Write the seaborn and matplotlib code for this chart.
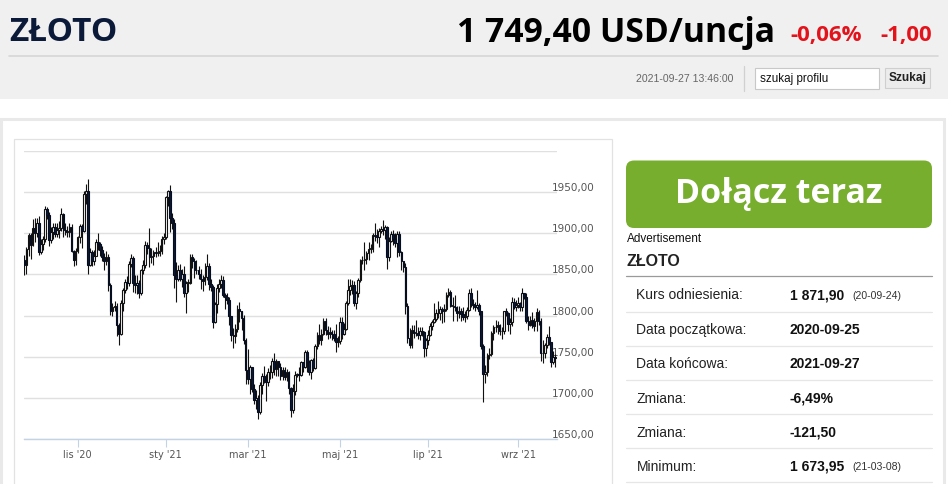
import numpy as np
import pandas as pd
import matplotlib
matplotlib.use("Agg")
import matplotlib.pyplot as plt
from matplotlib.patches import Rectangle, FancyBboxPatch
import seaborn as sns

sns.set_theme(style="white")
plt.rcParams['font.family'] = ['DejaVu Sans']

# ---------------- data ----------------
first_open = 1868
closes = [
    1862, 1881, 1898, 1886,
    1906, 1900, 1913, 1877, 1887, 1893, 1930, 1922, 1892, 1901, 1908, 1899, 1904, 1906, 1924, 1904, 1902, 1902, 1908, 1878, 1868, 1878,
    1895, 1909, 1903, 1948, 1951, 1862, 1877, 1866, 1873, 1889, 1887, 1880, 1871, 1866, 1871, 1837, 1805, 1811, 1812, 1788, 1777,
    1815, 1831, 1841, 1839, 1863, 1870, 1839, 1837, 1840, 1828, 1855, 1861, 1886, 1882, 1871, 1872, 1877, 1876, 1876, 1878, 1893, 1895,
    1944, 1951, 1918, 1913, 1849, 1844, 1855, 1845, 1851, 1828, 1840, 1840, 1871, 1866, 1855, 1855, 1850, 1844, 1842, 1847,
    1860, 1838, 1835, 1792, 1814, 1834, 1838, 1843, 1825, 1823, 1819, 1799, 1776, 1775, 1784, 1808, 1806, 1797, 1770, 1734,
    1723, 1737, 1711, 1698, 1700, 1683, 1716, 1726, 1722, 1719, 1731, 1731, 1745, 1735, 1745, 1738, 1726, 1734, 1725, 1732, 1712, 1685, 1708,
    1728, 1729, 1728, 1743, 1737, 1756, 1744, 1732, 1746, 1736, 1763, 1776, 1770, 1778, 1793, 1783, 1777, 1780, 1778, 1773, 1768, 1769,
    1792, 1778, 1784, 1815, 1831, 1836, 1837, 1815, 1827, 1843, 1867, 1868, 1869, 1876, 1881, 1881, 1898, 1897, 1896, 1903, 1905,
    1904, 1908, 1871, 1891, 1899, 1893, 1888, 1899, 1877, 1866, 1859, 1812, 1773, 1764, 1783, 1779, 1779, 1776, 1781, 1780, 1761, 1770,
    1776, 1787, 1792, 1796, 1803, 1803, 1808, 1805, 1808, 1825, 1829, 1812, 1812, 1810, 1803, 1806, 1802, 1798, 1799, 1807, 1828, 1814,
    1813, 1810, 1813, 1805, 1763, 1729, 1731, 1752, 1753, 1779, 1786, 1786, 1788, 1781, 1781, 1805, 1803, 1790, 1792, 1817, 1810, 1813,
    1815, 1810, 1827, 1823, 1794, 1788, 1795, 1787, 1794, 1804, 1794, 1754, 1754, 1764, 1774, 1768, 1743, 1750, 1749,
]
highs = [
    1874, 1883, 1900, 1900,
    1917, 1918, 1919, 1921, 1893, 1897, 1933, 1932, 1926, 1908, 1912, 1913, 1912, 1915, 1931, 1925, 1912, 1909, 1913, 1911, 1880, 1882,
    1897, 1911, 1911, 1951, 1960, 1966, 1882, 1880, 1880, 1893, 1900, 1890, 1885, 1876, 1878, 1875, 1840, 1815, 1818, 1815, 1791,
    1819, 1833, 1845, 1848, 1866, 1875, 1872, 1849, 1849, 1843, 1857, 1867, 1891, 1889, 1906, 1882, 1880, 1883, 1889, 1886, 1897, 1900,
    1945, 1953, 1959, 1925, 1917, 1865, 1862, 1863, 1857, 1860, 1842, 1845, 1875, 1875, 1870, 1867, 1860, 1856, 1849, 1864,
    1875, 1864, 1845, 1837, 1816, 1838, 1845, 1849, 1848, 1828, 1827, 1823, 1800, 1785, 1790, 1813, 1816, 1806, 1801, 1773,
    1759, 1740, 1738, 1717, 1710, 1703, 1719, 1730, 1739, 1729, 1736, 1740, 1748, 1755, 1747, 1745, 1742, 1737, 1737, 1735, 1733, 1713, 1717,
    1733, 1730, 1738, 1745, 1744, 1758, 1758, 1746, 1747, 1748, 1765, 1780, 1790, 1784, 1797, 1797, 1787, 1786, 1782, 1782, 1790, 1775,
    1798, 1798, 1791, 1818, 1845, 1845, 1843, 1842, 1830, 1846, 1869, 1873, 1890, 1878, 1890, 1887, 1900, 1913, 1905, 1906, 1909,
    1916, 1910, 1909, 1895, 1903, 1904, 1900, 1903, 1903, 1878, 1866, 1864, 1815, 1785, 1788, 1789, 1795, 1786, 1786, 1786, 1781, 1773,
    1782, 1791, 1795, 1815, 1808, 1818, 1812, 1810, 1814, 1829, 1834, 1831, 1822, 1825, 1812, 1812, 1809, 1810, 1806, 1811, 1832, 1833,
    1820, 1817, 1831, 1815, 1806, 1765, 1740, 1755, 1760, 1781, 1788, 1795, 1794, 1790, 1786, 1806, 1809, 1804, 1797, 1823, 1821, 1819,
    1823, 1816, 1834, 1828, 1827, 1800, 1800, 1804, 1797, 1809, 1807, 1797, 1770, 1767, 1777, 1787, 1768, 1757, 1753,
]
lows = [
    1849, 1850, 1873, 1869,
    1884, 1890, 1895, 1874, 1875, 1880, 1890, 1917, 1884, 1888, 1893, 1896, 1896, 1894, 1903, 1895, 1898, 1895, 1896, 1877, 1860, 1862,
    1876, 1888, 1882, 1901, 1936, 1850, 1860, 1860, 1862, 1872, 1880, 1873, 1866, 1855, 1862, 1830, 1801, 1800, 1805, 1775, 1764,
    1776, 1806, 1828, 1832, 1836, 1859, 1829, 1827, 1826, 1821, 1825, 1850, 1858, 1875, 1859, 1864, 1861, 1871, 1872, 1872, 1875, 1887,
    1893, 1933, 1902, 1905, 1834, 1817, 1842, 1842, 1835, 1822, 1803, 1829, 1838, 1858, 1846, 1851, 1844, 1832, 1830, 1837,
    1843, 1831, 1830, 1785, 1791, 1803, 1829, 1834, 1822, 1808, 1814, 1788, 1769, 1760, 1767, 1780, 1792, 1782, 1766, 1717,
    1717, 1705, 1707, 1692, 1687, 1674, 1680, 1705, 1718, 1696, 1715, 1723, 1724, 1728, 1727, 1727, 1722, 1722, 1722, 1720, 1705, 1677, 1681,
    1704, 1725, 1720, 1727, 1732, 1736, 1731, 1728, 1723, 1733, 1735, 1759, 1765, 1764, 1776, 1776, 1771, 1773, 1770, 1769, 1756, 1762,
    1765, 1771, 1776, 1783, 1813, 1825, 1826, 1812, 1808, 1823, 1841, 1863, 1855, 1863, 1868, 1876, 1877, 1891, 1888, 1883, 1900,
    1898, 1893, 1856, 1866, 1889, 1886, 1883, 1871, 1873, 1855, 1853, 1802, 1767, 1761, 1760, 1773, 1775, 1772, 1770, 1775, 1750, 1751,
    1764, 1775, 1783, 1791, 1793, 1797, 1795, 1791, 1792, 1806, 1822, 1810, 1794, 1806, 1794, 1797, 1794, 1795, 1792, 1796, 1805, 1810,
    1808, 1806, 1808, 1801, 1759, 1695, 1718, 1727, 1747, 1751, 1770, 1780, 1777, 1776, 1772, 1778, 1799, 1781, 1777, 1787, 1808, 1805,
    1809, 1805, 1805, 1820, 1791, 1782, 1787, 1785, 1781, 1781, 1788, 1745, 1742, 1749, 1760, 1764, 1737, 1741, 1738,
]
dates = pd.bdate_range("2020-09-25", "2021-09-27")
dates = dates[~dates.isin(pd.to_datetime(["2020-12-25", "2021-01-01"]))]

y_ticks = [1650, 1700, 1750, 1800, 1850, 1900, 1950, 2000]
y_labels = ["1650,00", "1700,00", "1750,00", "1800,00", "1850,00", "1900,00", "1950,00", ""]
tick_months = [(2020, 11), (2021, 1), (2021, 3), (2021, 5), (2021, 7), (2021, 9)]
x_labels = ["lis '20", "sty '21", "mar '21", "maj '21", "lip '21", "wrz '21"]

header_title = "ZŁOTO"
header_price = "1 749,40 USD/uncja"
header_pct = "-0,06%"
header_chg = "-1,00"
header_time = "2021-09-27 13:46:00"
search_text = "szukaj profilu"
button_text = "Szukaj"
ad_text = "Dołącz teraz"
table_labels = ["Kurs odniesienia:", "Data początkowa:", "Data końcowa:", "Zmiana:", "Zmiana:", "Minimum:"]
table_values = ["1 871,90", "2020-09-25", "2021-09-27", "-6,49%", "-121,50", "1 673,95"]
table_notes = ["(20-09-24)", "", "", "", "", "(21-03-08)"]

# ---------------- frame ----------------
df = pd.DataFrame({"date": dates, "close": closes, "high": highs, "low": lows})
df["open"] = df["close"].shift(1).fillna(first_open)
df["idx"] = np.arange(len(df))
df["high"] = np.maximum(df["high"], df[["open", "close"]].max(axis=1))
df["low"] = np.minimum(df["low"], df[["open", "close"]].min(axis=1))

W, H = 948, 485
fig = plt.figure(figsize=(W / 100, H / 100), dpi=100)
fig.patch.set_facecolor("white")

# page overlay in pixel coords
pg = fig.add_axes([0, 0, 1, 1], zorder=0)
pg.set_xlim(0, W)
pg.set_ylim(H, 0)
pg.axis("off")

pg.add_patch(Rectangle((0, 0), W, 99.5, facecolor="#f0f0f0", edgecolor="none"))
pg.plot([9, 938], [57.3, 57.3], color="#d6d6d6", lw=1.2)
pg.add_patch(Rectangle((1.5, 119.5), 943, 380, facecolor="white", edgecolor="#e9e9e9", lw=2.2))
pg.add_patch(Rectangle((14, 140), 598, 360, facecolor="white", edgecolor="#e2e2e2", lw=0.9))

pg.text(9, 40.7, header_title, fontsize=24, fontweight="bold", color="#0c1a3a",
        family="Open Sans", va="baseline", ha="left")
pg.text(775, 41.5, header_price, fontsize=24.3, fontweight="bold", color="#000000",
        family="Open Sans", va="baseline", ha="right")
pg.text(790, 40.5, header_pct, fontsize=16, fontweight="bold", color="#e3131b",
        family="Open Sans", va="baseline", ha="left")
pg.text(880, 40.5, header_chg, fontsize=16, fontweight="bold", color="#e3131b",
        family="Open Sans", va="baseline", ha="left")

pg.text(733, 79.5, header_time, fontsize=7.6, color="#666666", family="Liberation Sans",
        va="center", ha="right")
pg.plot([744, 744], [66.5, 92], color="#d0d0d0", lw=0.9)
pg.add_patch(Rectangle((755.5, 68.5), 124, 21, facecolor="white", edgecolor="#c8c8c8", lw=0.8))
pg.text(760, 79, search_text, fontsize=8.4, color="#111111", family="Liberation Sans",
        va="center", ha="left")
pg.add_patch(Rectangle((885.5, 68.5), 45, 20, facecolor="#ececec", edgecolor="#cfcfcf", lw=0.8))
pg.text(908, 78.5, button_text, fontsize=8.6, fontweight="bold", color="#222222",
        family="Liberation Sans", va="center", ha="center")

# ad button
pg.add_patch(FancyBboxPatch((626, 161.5), 306, 67.5, boxstyle="round,pad=0,rounding_size=8",
                            facecolor="#77ae2d", edgecolor="none"))
pg.text(779, 203.5, ad_text, fontsize=24.5, fontweight="bold", color="white",
        family="Open Sans", va="baseline", ha="center")
pg.text(627, 239.5, "Advertisement", fontsize=8.5, color="#111111", family="Liberation Sans",
        va="center", ha="left")
pg.text(627, 261.5, header_title, fontsize=11.5, fontweight="bold", color="#222222",
        family="Liberation Sans", va="center", ha="left")
pg.plot([626, 932], [277, 277], color="#9a9a9a", lw=0.9)

row_y = [295.5, 330.5, 364.5, 398.8, 432.8, 466.6]
sep_y = [312.5, 346.7, 380.7, 414.5, 448.7, 483.0]
for yy, lab, val, note in zip(row_y, table_labels, table_values, table_notes):
    pg.text(636.5, yy, lab, fontsize=10, color="#222222", family="Liberation Sans",
            va="center", ha="left")
    pg.text(790, yy, val, fontsize=10, fontweight="bold", color="#111111",
            family="Liberation Sans", va="center", ha="left")
    if note:
        pg.text(852, yy + 0.5, note, fontsize=7.6, color="#333333", family="Liberation Sans",
                va="center", ha="left")
for yy in sep_y:
    pg.plot([626, 932], [yy, yy], color="#e6e6e6", lw=0.9)

# ---------------- chart ----------------
L, R, T, B = 24, 557, 152, 440
ax = fig.add_axes([L / W, (H - B) / H, (R - L) / W, (B - T) / H], zorder=2)
ax.set_facecolor("none")

up = df["close"] >= df["open"]
dn = ~up
ax.vlines(df["idx"], df["low"], df["high"], color="#111111", lw=0.8, zorder=3)
body = (df["close"] - df["open"]).abs().clip(lower=0.7)
bottom = df[["open", "close"]].min(axis=1)
ax.bar(df["idx"][up], body[up], bottom=bottom[up], width=0.8, color="white",
       edgecolor="#111111", linewidth=0.8, zorder=4)
ax.bar(df["idx"][dn], body[dn], bottom=bottom[dn], width=0.8, color="#0b1a38",
       edgecolor="#050d1f", linewidth=0.8, zorder=4)

ax.set_xlim(-0.2, len(df))
ax.set_ylim(1650, 2000)
ax.set_yticks(y_ticks)
ax.set_yticklabels(y_labels)
ax.yaxis.tick_right()
ax.tick_params(axis="y", length=0, pad=-3.6, labelsize=7.5, labelcolor="#555555",
               left=False, right=False, labelright=True, labelleft=False)
for t in ax.get_yticklabels():
    t.set_verticalalignment("bottom")
    t.set_horizontalalignment("left")
ax.grid(axis="y", color="#e0e0e0", lw=1.0, zorder=0)
ax.grid(axis="x", visible=False)

tick_pos = [int(df.index[(df["date"].dt.year == y) & (df["date"].dt.month == m)][0])
            for (y, m) in tick_months]
ax.set_xticks(tick_pos)
ax.set_xticklabels(x_labels)
ax.tick_params(axis="x", length=5.8, width=0.8, color="#c3d3e4", pad=1.6, labelsize=7,
               labelcolor="#555555", bottom=True)

for s in ["top", "left", "right"]:
    ax.spines[s].set_visible(False)
ax.spines["bottom"].set_color("#c3d3e4")
ax.spines["bottom"].set_linewidth(1.0)
ax.spines["bottom"].set_zorder(5)

fig.savefig("out.png", dpi=100, facecolor="white")
